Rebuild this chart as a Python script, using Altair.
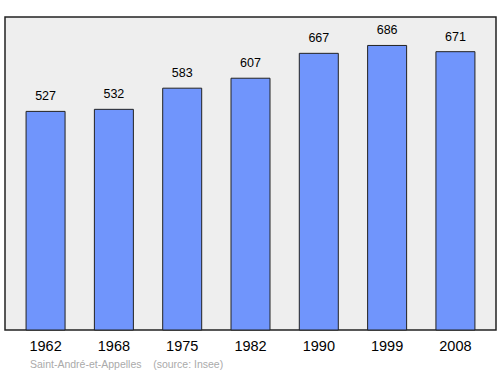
import altair as alt
import pandas as pd

years = ["1962", "1968", "1975", "1982", "1990", "1999", "2008"]
population = [527, 532, 583, 607, 667, 686, 671]
source_note = ["Saint-André-et-Appelles\u00a0\u00a0\u00a0\u00a0(source: Insee)"]

df = pd.DataFrame({"year": years, "pop": population})

x = alt.X("year:N", sort=years, title=None,
          scale=alt.Scale(paddingInner=0, paddingOuter=0.094),
          axis=alt.Axis(labelAngle=0, labelFontSize=14.5, labelColor="#000",
                        labelFont="Liberation Sans", domain=False, ticks=False,
                        labelPadding=9))
y = alt.Y("pop:Q", scale=alt.Scale(domain=[0, 754.6], nice=False), axis=None)

bars = alt.Chart(df).mark_bar(size=39, color="#7095fc", stroke="#222", strokeWidth=1).encode(x=x, y=y)
labels = alt.Chart(df).mark_text(dy=-15, fontSize=12.5, font="Liberation Sans", color="#000").encode(
    x=x, y=y, text="pop:Q")
note = alt.Chart(pd.DataFrame({"t": source_note})).mark_text(
    align="left", baseline="middle", fontSize=10.5, font="Liberation Sans", color="#aaaaaa"
).encode(x=alt.value(25), y=alt.value(348), text="t:N")

chart = (bars + labels + note).properties(
    width=491, height=313,
    autosize=alt.AutoSizeParams(type="none"),
    padding={"left": 5, "top": 17, "right": 4, "bottom": 44},
).configure_view(fill="#eeeeee", stroke="#222", strokeWidth=1.5)

chart.save("out.html", embed_options={"renderer": "svg", "actions": False})
